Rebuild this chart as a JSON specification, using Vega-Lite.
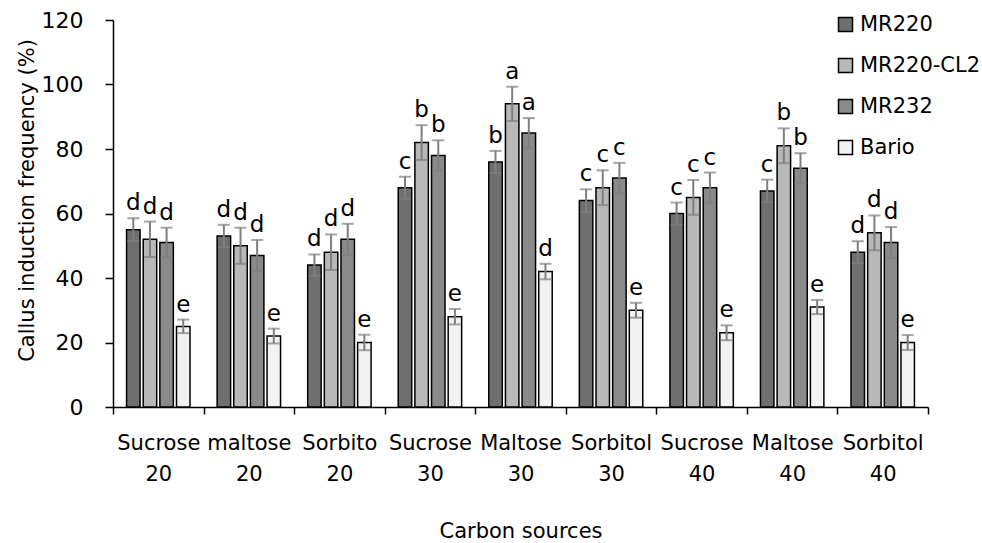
{
  "$schema": "https://vega.github.io/schema/vega-lite/v6.json",
  "width": 815,
  "height": 387,
  "autosize": {"type": "none"},
  "padding": {"left": 113, "top": 20, "right": 54, "bottom": 136},
  "background": "white",
  "config": {"font": "DejaVu Sans", "view": {"stroke": null}},
  "data": {"values": [
    {"cat": "Sucrose 20", "variety": "MR220", "value": 55, "err": 3.5, "letter": "d"},
    {"cat": "Sucrose 20", "variety": "MR220-CL2", "value": 52, "err": 5.5, "letter": "d"},
    {"cat": "Sucrose 20", "variety": "MR232", "value": 51, "err": 4.6, "letter": "d"},
    {"cat": "Sucrose 20", "variety": "Bario", "value": 25, "err": 2.1, "letter": "e"},
    {"cat": "maltose 20", "variety": "MR220", "value": 53, "err": 3.5, "letter": "d"},
    {"cat": "maltose 20", "variety": "MR220-CL2", "value": 50, "err": 5.6, "letter": "d"},
    {"cat": "maltose 20", "variety": "MR232", "value": 47, "err": 4.8, "letter": "d"},
    {"cat": "maltose 20", "variety": "Bario", "value": 22, "err": 2.3, "letter": "e"},
    {"cat": "Sorbito 20", "variety": "MR220", "value": 44, "err": 3.3, "letter": "d"},
    {"cat": "Sorbito 20", "variety": "MR220-CL2", "value": 48, "err": 5.5, "letter": "d"},
    {"cat": "Sorbito 20", "variety": "MR232", "value": 52, "err": 4.8, "letter": "d"},
    {"cat": "Sorbito 20", "variety": "Bario", "value": 20, "err": 2.4, "letter": "e"},
    {"cat": "Sucrose 30", "variety": "MR220", "value": 68, "err": 3.4, "letter": "c"},
    {"cat": "Sucrose 30", "variety": "MR220-CL2", "value": 82, "err": 5.4, "letter": "b"},
    {"cat": "Sucrose 30", "variety": "MR232", "value": 78, "err": 4.7, "letter": "b"},
    {"cat": "Sucrose 30", "variety": "Bario", "value": 28, "err": 2.4, "letter": "e"},
    {"cat": "Maltose 30", "variety": "MR220", "value": 76, "err": 3.4, "letter": "b"},
    {"cat": "Maltose 30", "variety": "MR220-CL2", "value": 94, "err": 5.3, "letter": "a"},
    {"cat": "Maltose 30", "variety": "MR232", "value": 85, "err": 4.6, "letter": "a"},
    {"cat": "Maltose 30", "variety": "Bario", "value": 42, "err": 2.4, "letter": "d"},
    {"cat": "Sorbitol 30", "variety": "MR220", "value": 64, "err": 3.5, "letter": "c"},
    {"cat": "Sorbitol 30", "variety": "MR220-CL2", "value": 68, "err": 5.4, "letter": "c"},
    {"cat": "Sorbitol 30", "variety": "MR232", "value": 71, "err": 4.7, "letter": "c"},
    {"cat": "Sorbitol 30", "variety": "Bario", "value": 30, "err": 2.3, "letter": "e"},
    {"cat": "Sucrose 40", "variety": "MR220", "value": 60, "err": 3.4, "letter": "c"},
    {"cat": "Sucrose 40", "variety": "MR220-CL2", "value": 65, "err": 5.4, "letter": "c"},
    {"cat": "Sucrose 40", "variety": "MR232", "value": 68, "err": 4.7, "letter": "c"},
    {"cat": "Sucrose 40", "variety": "Bario", "value": 23, "err": 2.3, "letter": "e"},
    {"cat": "Maltose 40", "variety": "MR220", "value": 67, "err": 3.5, "letter": "c"},
    {"cat": "Maltose 40", "variety": "MR220-CL2", "value": 81, "err": 5.4, "letter": "b"},
    {"cat": "Maltose 40", "variety": "MR232", "value": 74, "err": 4.7, "letter": "b"},
    {"cat": "Maltose 40", "variety": "Bario", "value": 31, "err": 2.2, "letter": "e"},
    {"cat": "Sorbitol 40", "variety": "MR220", "value": 48, "err": 3.4, "letter": "d"},
    {"cat": "Sorbitol 40", "variety": "MR220-CL2", "value": 54, "err": 5.4, "letter": "d"},
    {"cat": "Sorbitol 40", "variety": "MR232", "value": 51, "err": 4.8, "letter": "d"},
    {"cat": "Sorbitol 40", "variety": "Bario", "value": 20, "err": 2.3, "letter": "e"}
  ]},
  "transform": [
    {"calculate": "datum.value - datum.err", "as": "lo"},
    {"calculate": "datum.value + datum.err", "as": "hi"}
  ],
  "encoding": {
    "x": {
      "field": "cat", "type": "nominal", "sort": null, "title": "Carbon sources",
      "scale": {"paddingInner": 0, "paddingOuter": 0},
      "axis": {
        "tickBand": "extent", "labelAngle": 0, "labelExpr": "split(datum.label, ' ')",
        "labelFontSize": 21, "labelLineHeight": 31, "labelBaseline": "top", "labelPadding": 18,
        "labelColor": "black", "tickSize": 7, "tickColor": "black", "tickWidth": 1.5,
        "domainColor": "black", "domainWidth": 1.5, "grid": false,
        "titleFontSize": 21, "titleFontWeight": "normal", "titleColor": "black",
        "titleY": 113, "titleBaseline": "top"
      }
    },
    "xOffset": {
      "field": "variety", "type": "nominal", "sort": ["MR220", "MR220-CL2", "MR232", "Bario"],
      "scale": {"paddingInner": 0.19, "paddingOuter": 0.815}
    }
  },
  "layer": [
    {
      "mark": {"type": "bar", "stroke": "black", "strokeWidth": 1.5},
      "encoding": {
        "y": {
          "field": "value", "type": "quantitative", "title": "Callus induction frequency (%)",
          "scale": {"domain": [0, 120]},
          "axis": {
            "values": [0, 20, 40, 60, 80, 100, 120], "labelFontSize": 22, "labelPadding": 22,
            "labelColor": "black", "tickSize": 8, "tickColor": "black", "tickWidth": 1.5,
            "domainColor": "black", "domainWidth": 1.5, "grid": false,
            "titleFontSize": 21, "titleFontWeight": "normal", "titleColor": "black",
            "titleX": -86, "titleY": 180, "titleBaseline": "middle"
          }
        },
        "fill": {
          "field": "variety", "type": "nominal",
          "scale": {"domain": ["MR220", "MR220-CL2", "MR232", "Bario"], "range": ["#6f6f6f", "#b8b8b8", "#8a8a8a", "#f2f2f2"]},
          "legend": {
            "orient": "none", "legendX": 722, "legendY": -6, "title": null,
            "symbolType": "square", "symbolSize": 196, "symbolStrokeColor": "black", "symbolStrokeWidth": 1.5,
            "symbolOpacity": 1, "labelFontSize": 21, "labelColor": "black", "rowPadding": 19, "labelOffset": 4
          }
        }
      }
    },
    {
      "mark": {"type": "rule", "color": "#7f7f7f", "strokeWidth": 2},
      "encoding": {"y": {"field": "lo", "type": "quantitative"}, "y2": {"field": "hi"}}
    },
    {
      "mark": {"type": "tick", "color": "#7f7f7f", "thickness": 2, "size": 12},
      "encoding": {"y": {"field": "hi", "type": "quantitative"}}
    },
    {
      "mark": {"type": "tick", "color": "#7f7f7f", "thickness": 2, "size": 12},
      "encoding": {"y": {"field": "lo", "type": "quantitative"}}
    },
    {
      "mark": {"type": "text", "dy": -8, "baseline": "alphabetic", "fontSize": 23, "color": "black"},
      "encoding": {"y": {"field": "hi", "type": "quantitative"}, "text": {"field": "letter"}}
    }
  ]
}
